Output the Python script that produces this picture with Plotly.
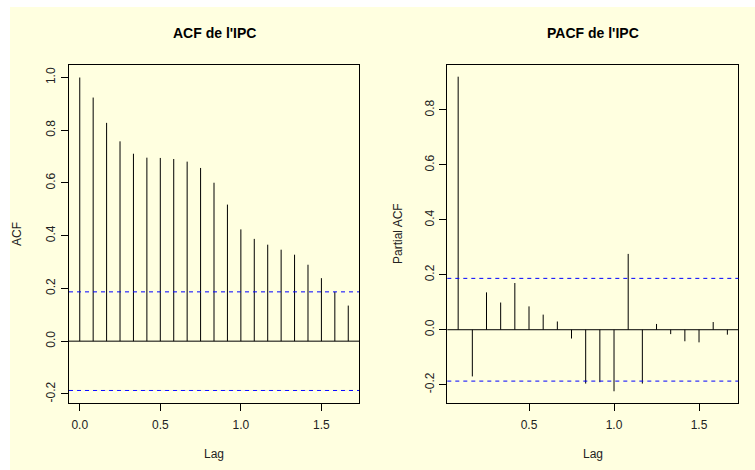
import plotly.graph_objects as go

W, H = 755, 470

# ---- data ----
acf_lags = [i / 12 for i in range(0, 21)]
acf_vals = [1.000, 0.924, 0.828, 0.758, 0.711, 0.696, 0.695, 0.691, 0.681, 0.657,
            0.601, 0.518, 0.424, 0.388, 0.366, 0.347, 0.328, 0.290, 0.239, 0.187, 0.135]
pacf_lags = [i / 12 for i in range(1, 21)]
pacf_vals = [0.921, -0.170, 0.136, 0.099, 0.170, 0.085, 0.055, 0.030, -0.032, -0.196,
             -0.191, -0.224, 0.276, -0.196, 0.021, -0.016, -0.042, -0.046, 0.028, -0.018]
clim = 0.187

acf_yticks = [-0.2, 0.0, 0.2, 0.4, 0.6, 0.8, 1.0]
acf_yticklabels = ["-0.2", "0.0", "0.2", "0.4", "0.6", "0.8", "1.0"]
pacf_yticks = [-0.2, 0.0, 0.2, 0.4, 0.6, 0.8]
pacf_yticklabels = ["-0.2", "0.0", "0.2", "0.4", "0.6", "0.8"]
acf_xticks = [0.0, 0.5, 1.0, 1.5]
acf_xticklabels = ["0.0", "0.5", "1.0", "1.5"]
pacf_xticks = [0.5, 1.0, 1.5]
pacf_xticklabels = ["0.5", "1.0", "1.5"]

titles = ["ACF de l'IPC", "PACF de l'IPC"]
ylabels = ["ACF", "Partial ACF"]
xlabel = "Lag"

FONT = "Liberation Sans, Arial, Helvetica, sans-serif"
BG = "#FFFFE0"


def stems(xs, ys):
    X, Y = [], []
    for x, y in zip(xs, ys):
        X += [x, x, None]
        Y += [0, y, None]
    return X, Y


fig = go.Figure()
ax, ay = stems(acf_lags, acf_vals)
fig.add_trace(go.Scatter(x=ax, y=ay, mode="lines", line=dict(color="black", width=1),
                         xaxis="x", yaxis="y", showlegend=False, hoverinfo="skip"))
px_, py_ = stems(pacf_lags, pacf_vals)
fig.add_trace(go.Scatter(x=px_, y=py_, mode="lines", line=dict(color="black", width=1),
                         xaxis="x2", yaxis="y2", showlegend=False, hoverinfo="skip"))

# panel geometry (pixels)
top, bottom = 65, 403
left1, right1 = 69, 359
left2, right2 = 447.3, 738.3
ydom = [(H - bottom) / H, (H - top) / H]

common = dict(showline=True, mirror=True, linecolor="black", linewidth=1,
              ticks="outside", ticklen=7, tickcolor="black", tickwidth=1,
              showgrid=False, zeroline=False, tickfont=dict(family=FONT, size=12, color="#222"))

fig.update_layout(
    width=W, height=H, margin=dict(l=0, r=0, t=0, b=0),
    paper_bgcolor="white", plot_bgcolor="rgba(0,0,0,0)",
    xaxis=dict(domain=[left1 / W, right1 / W], range=[-0.0667, 1.7333], anchor="y",
               tickmode="array", tickvals=acf_xticks, ticktext=acf_xticklabels,
               ticklabelstandoff=4, **common),
    yaxis=dict(domain=ydom, range=[-0.2345, 1.0475], anchor="x",
               tickmode="array", tickvals=acf_yticks, ticktext=acf_yticklabels,
               tickangle=-90, ticklabelstandoff=1, **common),
    xaxis2=dict(domain=[left2 / W, right2 / W], range=[0.0194, 1.731], anchor="y2",
                tickmode="array", tickvals=pacf_xticks, ticktext=pacf_xticklabels,
                ticklabelstandoff=4, **common),
    yaxis2=dict(domain=ydom, range=[-0.2667, 0.9636], anchor="x2",
                tickmode="array", tickvals=pacf_yticks, ticktext=pacf_yticklabels,
                tickangle=-90, ticklabelstandoff=1, **common),
)

shapes = [dict(type="rect", xref="paper", yref="paper", x0=10 / W, x1=1, y0=0, y1=(H - 7) / H,
               fillcolor=BG, line=dict(width=0), layer="below")]
for xr, yr in [("x", "y"), ("x2", "y2")]:
    shapes.append(dict(type="line", xref=xr + " domain", yref=yr, x0=0, x1=1, y0=0, y1=0,
                       line=dict(color="black", width=1)))
    for c in (clim, -clim):
        shapes.append(dict(type="line", xref=xr + " domain", yref=yr, x0=0, x1=1, y0=c, y1=c,
                           line=dict(color="blue", width=1, dash="4px,4px")))
fig.update_layout(shapes=shapes)

ann = []
for i, (l, r) in enumerate([(left1, right1), (left2, right2)]):
    cx = (l + r) / 2 / W
    ann.append(dict(text="<b>" + titles[i] + "</b>", x=cx, y=(H - 33) / H, xref="paper", yref="paper",
                    showarrow=False, xanchor="center", yanchor="middle",
                    font=dict(family=FONT, size=14, color="black")))
    ann.append(dict(text=xlabel, x=cx, y=(H - 454) / H, xref="paper", yref="paper",
                    showarrow=False, xanchor="center", yanchor="middle",
                    font=dict(family=FONT, size=12, color="#222")))
ycen = (H - (top + bottom) / 2) / H
for lbl, xpx in [(ylabels[0], 17), (ylabels[1], 398)]:
    ann.append(dict(text=lbl, x=xpx / W, y=ycen, xref="paper", yref="paper", textangle=-90,
                    showarrow=False, xanchor="center", yanchor="middle",
                    font=dict(family=FONT, size=12, color="#222")))
fig.update_layout(annotations=ann)

fig.write_html("out.html")
